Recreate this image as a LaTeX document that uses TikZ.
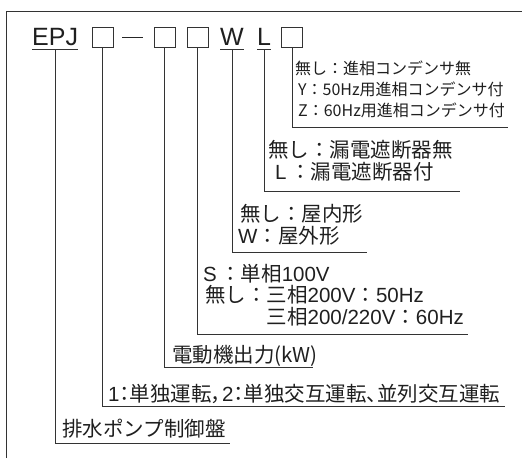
\documentclass[tikz,border=0pt]{standalone}
\usepackage{fontspec}
\setmainfont{Noto Sans CJK JP}
\newfontfamily\latinf{Liberation Sans}
\newfontfamily\paltf[RawFeature=+palt]{Noto Sans CJK JP}
\newcommand{\lt}[1]{{\latinf #1}}
\begin{document}
\begin{tikzpicture}[x=1pt,y=-1pt,
  ln/.style={draw=black!80, line width=0.9pt},
  lbl/.style={anchor=base west, inner sep=0pt, text=black!88, font=\fontsize{20.5}{24}\selectfont},
  sml/.style={anchor=base west, inner sep=0pt, text=black!88, font=\fontsize{16}{19}\selectfont},
  head/.style={anchor=base west, inner sep=0pt, text=black!88, font=\latinf\fontsize{25}{30}\selectfont},
  codebox/.style={draw=black!80, line width=0.9pt, minimum width=21pt, minimum height=20pt, inner sep=0pt}
]
\useasboundingbox (0,0) rectangle (522,458);
% frame
\coordinate (ftr) at (522,11);
\coordinate (fbl) at (6,458);
\draw[ln] (fbl) |- (ftr);

% header
\node[head] (epj) at (32,45) {EPJ};
\node[codebox] (b1) at (102.5,37) {};
\coordinate (d1) at (122,37.5);
\coordinate (d2) at (143,37.5);
\draw[black!85, line width=1.6pt] (d1) -- (d2);
\node[codebox] (b2) at (164.5,37) {};
\node[codebox] (b3) at (197.5,37) {};
\node[head] (w) at (220,45) {W};
\node[head] (l) at (257,45) {L};
\node[codebox] (b4) at (292,37) {};
\draw[ln] (epj.west |- 0,49.5) -- (epj.east |- 0,49.5);
\draw[ln] (w.west |- 0,49.5) -- (w.east |- 0,49.5);
\draw[ln] (l.west |- 0,49.5) -- (l.east |- 0,49.5);

% ends of leader lines
\coordinate (e4) at (508,127);
\coordinate (el) at (460,191);
\coordinate (ew) at (367,252);
\coordinate (e3) at (468,334);
\coordinate (e2) at (313,367);
\coordinate (e1) at (505,406);
\coordinate (ee) at (230,443);

\draw[ln] (b4.south) |- (e4);
\draw[ln] (l.south |- 0,49.5) |- (el);
\draw[ln] (w.south |- 0,49.5) |- (ew);
\draw[ln] (b3.south) |- (e3);
\draw[ln] (b2.south) |- (e2);
\draw[ln] (b1.south) |- (e1);
\draw[ln] (epj.south |- 0,49.5) |- (ee);

% texts
\node[sml] (t4a) at (295,74) {無し：進相コンデンサ無};
\node[sml] (t4b) at (298,95) {Y：50Hz用進相コンデンサ付};
\node[sml] (t4c) at (298,116) {Z：60Hz用進相コンデンサ付};

\node[lbl] (tla) at (268,157) {無し：漏電遮断器無};
\node[lbl] (tlb) at (275,179) {\lt{L}\,：漏電遮断器付};

\node[lbl] (twa) at (240,221) {無し：屋内形};
\node[lbl] (twb) at (238,243) {\lt{W}：屋外形};

\node[lbl] (t3a) at (203,281) {\lt{S}\,：単相\lt{100V}};
\node[lbl] (t3b) at (205,302) {無し：三相\lt{200V}：\lt{50Hz}};
\node[lbl] (t3c) at (205,324) {\phantom{無し：}三相\lt{200/220V}：\lt{60Hz}};

\node[lbl] (t2) at (172,362) {電動機出力(kW)};
\node[lbl] (t1) at (108,401) {\paltf \lt{1}：単独運転，\lt{2}：単独交互運転、並列交互運転};
\node[lbl] (te) at (62,436) {排水ポンプ制御盤};
\end{tikzpicture}
\end{document}
